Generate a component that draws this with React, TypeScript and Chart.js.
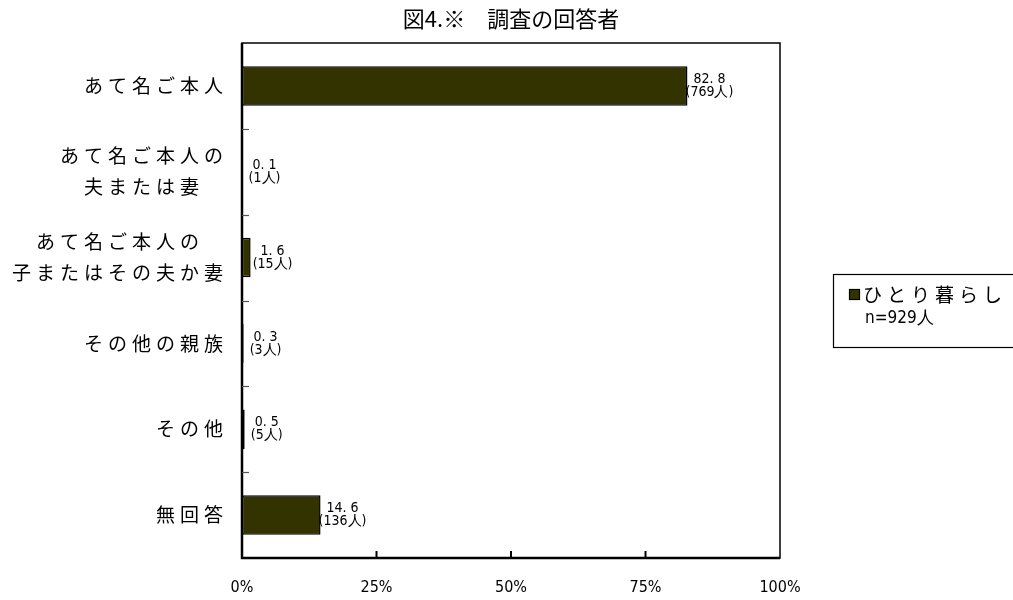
import React, { useEffect, useRef } from "react";
import { Chart, registerables } from "chart.js";

Chart.register(...registerables);

const titleText = "図4.※　調査の回答者";
const categoryLines: string[][] = [
  ["あて名ご本人"],
  ["あて名ご本人の", "夫または妻"],
  ["あて名ご本人の", "子またはその夫か妻"],
  ["その他の親族"],
  ["その他"],
  ["無回答"],
];
const percentValues = [82.8, 0.1, 1.6, 0.3, 0.5, 14.6];
const personCounts = [769, 1, 15, 3, 5, 136];
const xTickValues = [0, 25, 50, 75, 100];
const seriesName = "ひとり暮らし";
const sampleNote = "n=929人";

const BAR_COLOR = "#333300";
const JP_FONT = "'Noto Sans CJK JP', 'Noto Sans', sans-serif";
const NARROW_FONT = "'Liberation Sans Narrow', 'DejaVu Sans Condensed', 'Liberation Sans', sans-serif";

function drawSpaced(ctx: CanvasRenderingContext2D, text: string, cx: number, cy: number, spacing: number) {
  const chars = Array.from(text);
  const widths = chars.map((c) => ctx.measureText(c).width);
  const total = widths.reduce((a, b) => a + b, 0) + spacing * (chars.length - 1);
  let x = cx - total / 2;
  ctx.textAlign = "left";
  ctx.textBaseline = "middle";
  chars.forEach((c, i) => {
    ctx.fillText(c, x, cy);
    x += widths[i] + spacing;
  });
  return total;
}

function spacedWidth(ctx: CanvasRenderingContext2D, text: string, spacing: number) {
  const chars = Array.from(text);
  return chars.reduce((a, c) => a + ctx.measureText(c).width, 0) + spacing * (chars.length - 1);
}

const decorPlugin = {
  id: "decor",
  afterDatasetsDraw(chart: any) {
    const { ctx, chartArea } = chart;
    const xs = chart.scales.x;
    const ys = chart.scales.y;
    ctx.save();
    // frame
    ctx.strokeStyle = "#000";
    ctx.lineWidth = 1.5;
    ctx.strokeRect(chartArea.left, chartArea.top, chartArea.right - chartArea.left, chartArea.bottom - chartArea.top);
    ctx.lineWidth = 2.5;
    ctx.beginPath();
    ctx.moveTo(chartArea.left, chartArea.top);
    ctx.lineTo(chartArea.left, chartArea.bottom);
    ctx.lineTo(chartArea.right, chartArea.bottom);
    ctx.stroke();
    // inner ticks
    ctx.lineWidth = 1.2;
    ctx.strokeStyle = "#555";
    for (let i = 1; i < categoryLines.length; i++) {
      const y = (ys.getPixelForValue(i - 1) + ys.getPixelForValue(i)) / 2;
      ctx.beginPath();
      ctx.moveTo(chartArea.left, Math.round(y) + 0.5);
      ctx.lineTo(chartArea.left + 7, Math.round(y) + 0.5);
      ctx.stroke();
    }
    ctx.strokeStyle = "#000";
    ctx.lineWidth = 2;
    xTickValues.slice(1, -1).forEach((v) => {
      const x = xs.getPixelForValue(v);
      ctx.beginPath();
      ctx.moveTo(x, chartArea.bottom);
      ctx.lineTo(x, chartArea.bottom - 7);
      ctx.stroke();
    });
    // category labels
    ctx.fillStyle = "#000";
    ctx.font = `19px ${JP_FONT}`;
    const spacing = 5;
    const rightEdge = chartArea.left - 19;
    categoryLines.forEach((lines, i) => {
      const cy = ys.getPixelForValue(i);
      const blockW = Math.max(...lines.map((l) => spacedWidth(ctx, l, spacing)));
      const cx = rightEdge - blockW / 2;
      const lh = 31;
      lines.forEach((l, j) => {
        const y = cy + (j - (lines.length - 1) / 2) * lh;
        drawSpaced(ctx, l, cx, y, spacing);
      });
    });
    // data labels
    const meta = chart.getDatasetMeta(0);
    ctx.font = `14px ${NARROW_FONT}`;
    ctx.textAlign = "center";
    ctx.textBaseline = "middle";
    meta.data.forEach((bar: any, i: number) => {
      const cx = bar.x + 22;
      ctx.fillText(percentValues[i].toFixed(1).replace(".", ". "), cx, bar.y - 6.5);
      ctx.fillText(`(${personCounts[i]}人)`, cx, bar.y + 6.5);
    });
    // legend
    ctx.lineWidth = 1.2;
    ctx.strokeStyle = "#000";
    ctx.strokeRect(833.5, 274.5, 200, 73);
    ctx.fillStyle = BAR_COLOR;
    ctx.fillRect(849, 289, 11, 11);
    ctx.strokeRect(849.5, 289.5, 10, 10);
    ctx.fillStyle = "#000";
    ctx.font = `19px ${JP_FONT}`;
    const w = spacedWidth(ctx, seriesName, spacing);
    drawSpaced(ctx, seriesName, 863 + w / 2, 295, spacing);
    ctx.font = `17px ${NARROW_FONT}`;
    ctx.textAlign = "left";
    ctx.fillText(sampleNote, 865, 319);
    ctx.restore();
  },
};

export default function App() {
  const ref = useRef<HTMLCanvasElement>(null);
  useEffect(() => {
    if (!ref.current) return;
    const chart = new Chart(ref.current, {
      type: "bar",
      data: {
        labels: categoryLines.map((l) => l.join("")),
        datasets: [
          {
            label: seriesName,
            data: percentValues,
            backgroundColor: BAR_COLOR,
            borderColor: "#000",
            borderWidth: 1.5,
            borderSkipped: false,
            barPercentage: 0.46,
            categoryPercentage: 1,
          },
        ],
      },
      options: {
        indexAxis: "y",
        responsive: false,
        animation: false,
        layout: { padding: { left: 242, right: 233, top: 0, bottom: 0 } },
        plugins: {
          legend: { display: false },
          tooltip: { enabled: false },
          title: {
            display: true,
            text: titleText,
            color: "#000",
            font: { family: JP_FONT, size: 22, weight: "normal" },
            padding: { top: 5, bottom: 11.6 },
          },
        },
        scales: {
          x: {
            type: "linear",
            min: 0,
            max: 100,
            afterBuildTicks: (s: any) => {
              s.ticks = xTickValues.map((v) => ({ value: v }));
            },
            afterFit: (s: any) => {
              s.height = 42;
            },
            ticks: {
              callback: (v: any) => `${v}%`,
              color: "#000",
              font: { family: NARROW_FONT, size: 16 },
              padding: 20,
              maxRotation: 0,
            },
            grid: { display: false, drawTicks: false },
            border: { display: false },
          },
          y: {
            type: "category",
            afterFit: (s: any) => {
              s.width = 0;
            },
            ticks: { display: false },
            grid: { display: false, drawTicks: false },
            border: { display: false },
          },
        },
      },
      plugins: [decorPlugin],
    } as any);
    return () => chart.destroy();
  }, []);
  return (
    <div style={{ position: "absolute", left: 0, top: 0, width: 1013, height: 600, background: "#fff" }}>
      <canvas ref={ref} width={1013} height={600} />
    </div>
  );
}
